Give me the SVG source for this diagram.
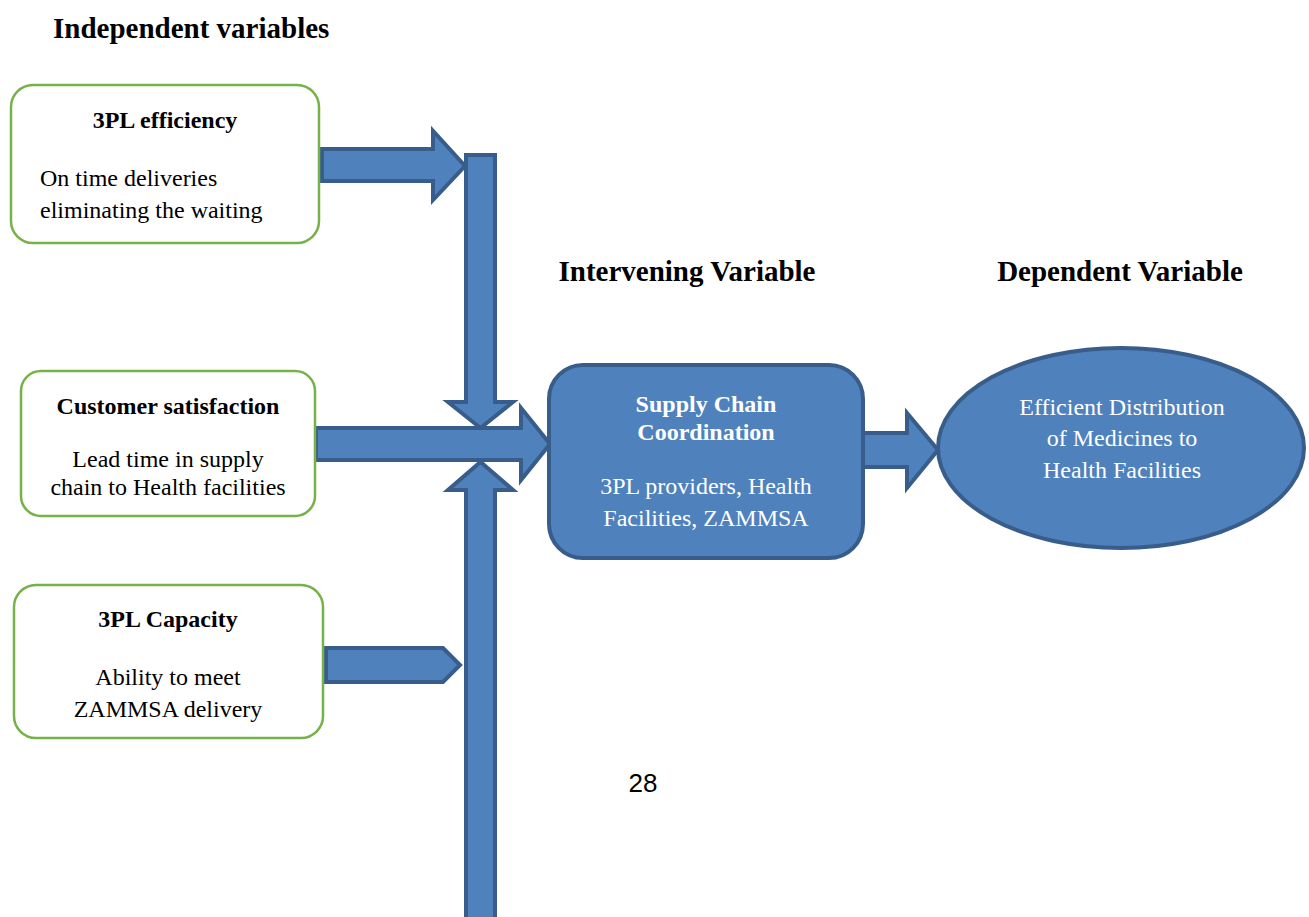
<svg xmlns="http://www.w3.org/2000/svg" width="1309" height="917" viewBox="0 0 1309 917">
<style>
.bg{fill:#ffffff}
.box{fill:#ffffff;stroke:#77B14A;stroke-width:2.5}
.arr{fill:#4F81BD;stroke:#385D8A;stroke-width:4;stroke-linejoin:miter}
.blue{fill:#4F81BD;stroke:#385D8A;stroke-width:4}
.t{font-family:"Liberation Serif","Times New Roman",serif;font-size:24px;fill:#000}
.b{font-weight:bold}
.h{font-family:"Liberation Serif","Times New Roman",serif;font-size:29px;font-weight:bold;fill:#000}
.w{font-family:"Liberation Serif","Times New Roman",serif;font-size:24px;fill:#ffffff}
.pg{font-family:"Liberation Sans",Arial,sans-serif;font-size:26px;fill:#000}
</style>
<rect class="bg" x="0" y="0" width="1309" height="917"/>
<text class="h" x="53" y="38">Independent variables</text>
<text class="h" x="687" y="281" text-anchor="middle">Intervening Variable</text>
<text class="h" x="1120" y="281" text-anchor="middle">Dependent Variable</text>
<text class="pg" x="643" y="792" text-anchor="middle">28</text>

<g id="connectors">
<polygon class="arr" points="466,155 495,155 495,402 513,402 480.5,428 448,402 466,402"/>
<polygon class="arr" points="466,930 495,930 495,490 513,490 480.5,462 448,490 466,490"/>
<polygon class="arr" points="322,149 433,149 433,131 465,166 433,200 433,181 322,181"/>
<polygon class="arr" points="316,428 521,428 521,408 550,444 521,480 521,460 316,460"/>
<polygon class="arr" points="326,648 443,648 460,665 443,682 326,682"/>
<polygon class="arr" points="863,433 907,433 907,413 938,450 907,488 907,467 863,467"/>
</g>

<g id="n1">
<rect class="box" x="11" y="85" width="308" height="158" rx="22"/>
<text class="t b" x="165" y="128" text-anchor="middle">3PL efficiency</text>
<text class="t" x="40" y="186">On time deliveries</text>
<text class="t" x="40" y="218">eliminating the waiting</text>
</g>
<g id="n2">
<rect class="box" x="21" y="371" width="294" height="145" rx="20"/>
<text class="t b" x="168" y="414" text-anchor="middle">Customer satisfaction</text>
<text class="t" x="168" y="467" text-anchor="middle">Lead time in supply</text>
<text class="t" x="168" y="495" text-anchor="middle">chain to Health facilities</text>
</g>
<g id="n3">
<rect class="box" x="14" y="585" width="309" height="153" rx="22"/>
<text class="t b" x="168" y="627" text-anchor="middle">3PL Capacity</text>
<text class="t" x="168" y="685" text-anchor="middle">Ability to meet</text>
<text class="t" x="168" y="717" text-anchor="middle">ZAMMSA delivery</text>
</g>
<g id="n4">
<rect class="blue" x="549" y="365" width="314" height="193" rx="34"/>
<text class="w b" x="706" y="412" text-anchor="middle">Supply Chain</text>
<text class="w b" x="706" y="440" text-anchor="middle">Coordination</text>
<text class="w" x="706" y="494" text-anchor="middle">3PL providers, Health</text>
<text class="w" x="706" y="526" text-anchor="middle">Facilities, ZAMMSA</text>
</g>
<g id="n5">
<ellipse class="blue" cx="1121" cy="448" rx="183" ry="100"/>
<text class="w" x="1122" y="415" text-anchor="middle">Efficient Distribution</text>
<text class="w" x="1122" y="446" text-anchor="middle">of Medicines to</text>
<text class="w" x="1122" y="478" text-anchor="middle">Health Facilities</text>
</g>
</svg>
